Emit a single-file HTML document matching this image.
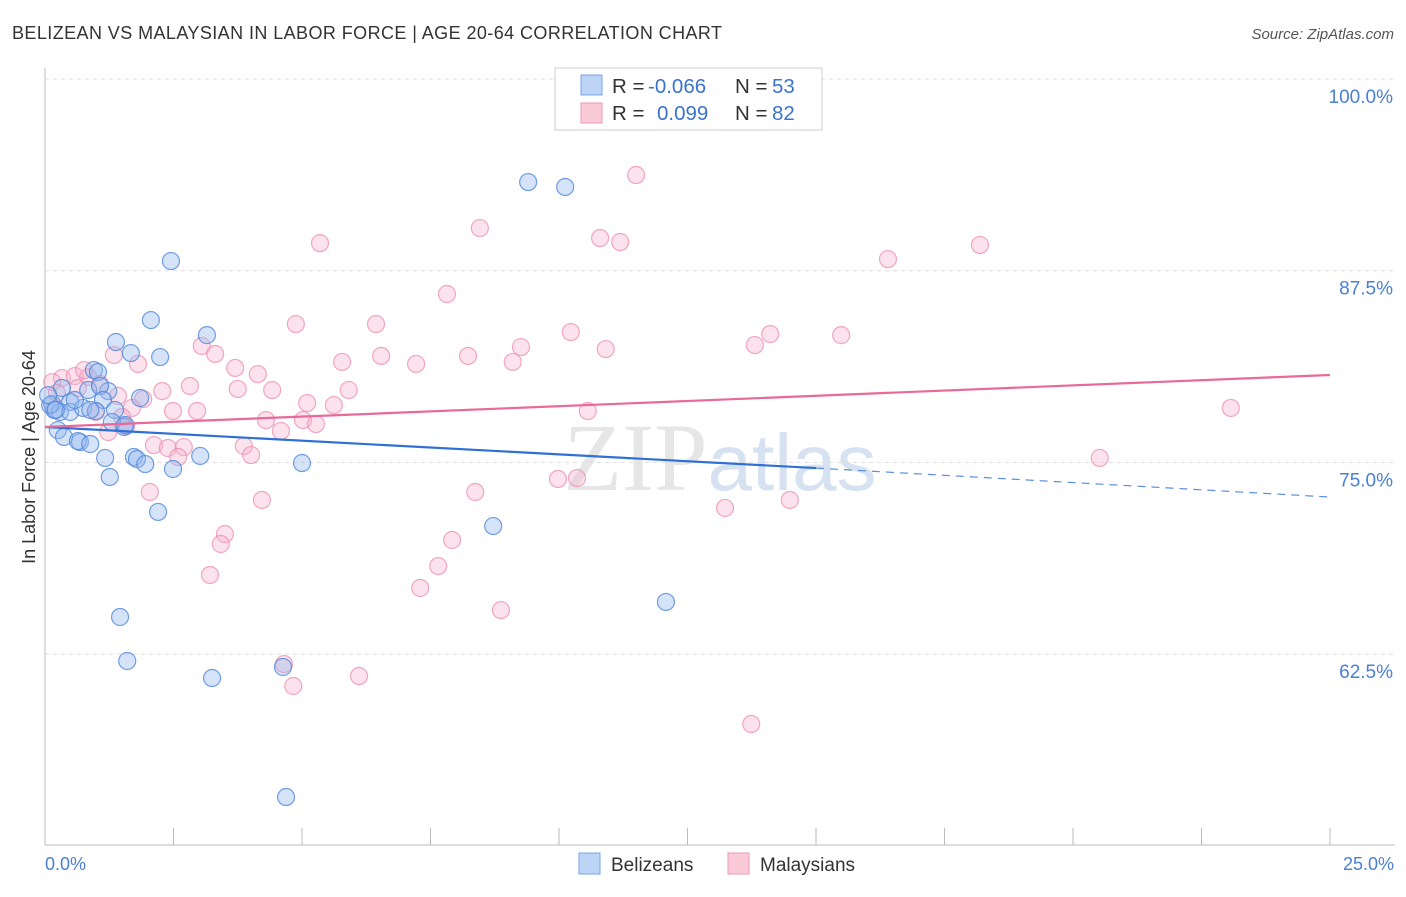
<!DOCTYPE html>
<html><head><meta charset="utf-8"><style>
body{margin:0;background:#fff;font-family:"Liberation Sans",sans-serif;}
</style></head><body>
<svg id="chart" width="1406" height="892" xmlns="http://www.w3.org/2000/svg">
<text x="12" y="39" font-size="18" fill="#333" textLength="710" lengthAdjust="spacing">BELIZEAN VS MALAYSIAN IN LABOR FORCE | AGE 20-64 CORRELATION CHART</text>
<text x="1394" y="39" font-size="15" fill="#555" font-style="italic" text-anchor="end">Source: ZipAtlas.com</text>
<text x="35" y="457" font-size="18" fill="#333" text-anchor="middle" transform="rotate(-90 35 457)">In Labor Force | Age 20-64</text>
<text x="720" y="490" font-size="96" fill="#e6e6e6" text-anchor="middle" font-family="Liberation Serif">ZIP<tspan fill="#d6e2f2" font-family="Liberation Sans" font-size="80">atlas</tspan></text>
<g id="grid"></g><g id="pts"></g><g id="trend"></g>
<text x="45" y="870" font-size="18" fill="#4a7fd6">0.0%</text>
<text x="1394" y="870" font-size="18" fill="#4a7fd6" text-anchor="end">25.0%</text>
<g>
<rect x="579" y="853" width="21" height="21" fill="#bcd4f5" stroke="#7aa6e6"/>
<text x="611" y="871" font-size="19" fill="#333">Belizeans</text>
<rect x="728" y="853" width="21" height="21" fill="#fbcad9" stroke="#ee9ab6"/>
<text x="760" y="871" font-size="19" fill="#333">Malaysians</text>
</g>
<g>
<rect x="555" y="68" width="267" height="62" fill="#fff" stroke="#ccc"/>
<rect x="581" y="75" width="21" height="20" fill="#bcd4f5" stroke="#7aa6e6"/>
<rect x="581" y="103" width="21" height="20" fill="#fbcad9" stroke="#ee9ab6"/>
<text x="612" y="93" font-size="20.5" fill="#333">R = <tspan x="648" fill="#3a72d0">-0.066</tspan><tspan x="735">N = </tspan><tspan x="772" fill="#3a72d0">53</tspan></text>
<text x="612" y="120" font-size="20.5" fill="#333">R = <tspan x="657" fill="#3a72d0">0.099</tspan><tspan x="735">N = </tspan><tspan x="772" fill="#3a72d0">82</tspan></text>
</g>
</svg>
<script>
const blueX=[9.40,10.12,2.45,2.06,3.15,1.38,1.67,2.24,0.95,1.03,0.33,0.84,1.23,1.07,1.85,0.49,1.13,0.14,0.18,0.29,0.49,0.74,0.99,1.36,1.54,1.30,0.25,0.37,0.68,0.64,0.88,1.17,1.73,1.79,1.95,3.02,5.00,2.49,1.26,2.20,8.72,12.08,1.46,1.60,3.25,4.63,4.69,0.10,0.21,0.58,0.88,1.56,0.06];
const blueY=[93.28,92.96,88.13,84.28,83.30,82.85,82.13,81.87,81.02,80.89,79.85,79.72,79.65,79.98,79.20,78.94,79.07,78.81,78.42,78.29,78.29,78.55,78.35,78.42,77.31,77.63,77.11,76.66,76.33,76.39,76.20,75.29,75.35,75.22,74.89,75.42,74.96,74.57,74.05,71.77,70.85,65.90,64.92,62.05,60.94,61.66,53.18,78.74,78.42,79.07,78.42,77.44,79.39];
const pinkX=[11.50,8.46,10.80,11.19,5.35,16.40,18.19,7.82,4.88,6.44,10.23,14.11,15.49,13.81,3.05,9.26,10.91,3.31,6.54,8.23,5.78,7.22,1.34,9.10,1.81,3.70,4.14,0.33,0.58,0.84,0.76,1.07,0.14,2.82,3.75,4.42,5.91,2.28,0.23,1.42,5.10,5.62,1.91,1.69,2.49,2.96,10.56,23.07,4.30,5.02,5.27,1.50,0.99,1.58,1.23,4.59,2.12,2.39,2.70,2.59,3.87,4.01,20.52,9.98,10.35,2.04,8.37,4.22,14.49,13.23,3.50,3.42,7.92,7.65,3.21,7.30,8.87,4.65,4.83,6.11,13.74,0.64];
const pinkY=[93.74,90.28,89.63,89.37,89.30,88.26,89.18,85.98,84.02,84.02,83.50,83.37,83.30,82.65,82.59,82.52,82.39,82.07,81.94,81.94,81.55,81.42,82.00,81.55,81.42,81.16,80.76,80.50,80.63,80.57,81.02,80.11,80.24,79.98,79.79,79.72,79.72,79.65,79.52,79.33,78.87,78.74,79.13,78.55,78.35,78.35,78.35,78.55,77.76,77.76,77.50,77.96,78.29,77.37,76.98,77.05,76.13,75.94,76.00,75.35,76.07,75.48,75.29,73.92,73.98,73.07,73.07,72.55,72.55,72.03,70.33,69.68,69.94,68.24,67.66,66.81,65.37,61.85,60.42,61.07,57.94,79.85];
const yTicks=[100,87.5,75,62.5];
const yTickLabels=["100.0%","87.5%","75.0%","62.5%"];
const blueTrend=[77.31,74.63,72.74]; // at x=0, 15, 25
const pinkTrend=[77.31,80.70]; // at x=0, 25
const NS="http://www.w3.org/2000/svg";
const sx=v=>45+v/25*1285;
const sy=v=>79+(100-v)/12.5*191.7;
function mk(tag,attrs,parent){const e=document.createElementNS(NS,tag);for(const k in attrs)e.setAttribute(k,attrs[k]);parent.appendChild(e);return e;}
const grid=document.getElementById('grid');
yTicks.forEach((t,i)=>{
 const l=mk('line',{x1:45,x2:1395,y1:sy(t),y2:sy(t),stroke:'#ddd','stroke-dasharray':'4,4'},grid);
 
 
 const tx=mk('text',{x:1393,y:sy(t)+24,'font-size':19,fill:'#4a7fd6','text-anchor':'end'},grid);
 tx.textContent=yTickLabels[i];
 
 
});
const ax=mk('line',{x1:45,x2:45,y1:68,y2:845,stroke:'#bbb'},grid);


const bx=mk('line',{x1:45,x2:1395,y1:845,y2:845,stroke:'#bbb'},grid);


for(let i=1;i<=10;i++){const t=mk('line',{x1:sx(i*2.5),x2:sx(i*2.5),y1:828,y2:845,stroke:'#bbb'},grid);
 
 }
const pts=document.getElementById('pts');
pinkX.forEach((x,i)=>{const c=mk('circle',{cx:sx(x),cy:sy(pinkY[i]),r:8.5,fill:'rgba(248,180,204,0.38)',stroke:'rgba(236,140,175,0.75)','stroke-width':1.2},pts);
 
 });
blueX.forEach((x,i)=>{const c=mk('circle',{cx:sx(x),cy:sy(blueY[i]),r:8.5,fill:'rgba(150,185,238,0.4)',stroke:'rgba(80,135,220,0.8)','stroke-width':1.2},pts);
 
 });
const tr=document.getElementById('trend');
const b1=mk('line',{x1:sx(0),y1:sy(blueTrend[0]),x2:sx(15),y2:sy(blueTrend[1]),stroke:'#2f6fd6','stroke-width':2.2},tr);


const b2=mk('line',{x1:sx(15),y1:sy(blueTrend[1]),x2:sx(25),y2:sy(blueTrend[2]),stroke:'#5a8fe0','stroke-width':1.2,'stroke-dasharray':'8,6'},tr);


const p1=mk('line',{x1:sx(0),y1:sy(pinkTrend[0]),x2:sx(25),y2:sy(pinkTrend[1]),stroke:'#e8699a','stroke-width':2.2},tr);


</script>
</body></html>
